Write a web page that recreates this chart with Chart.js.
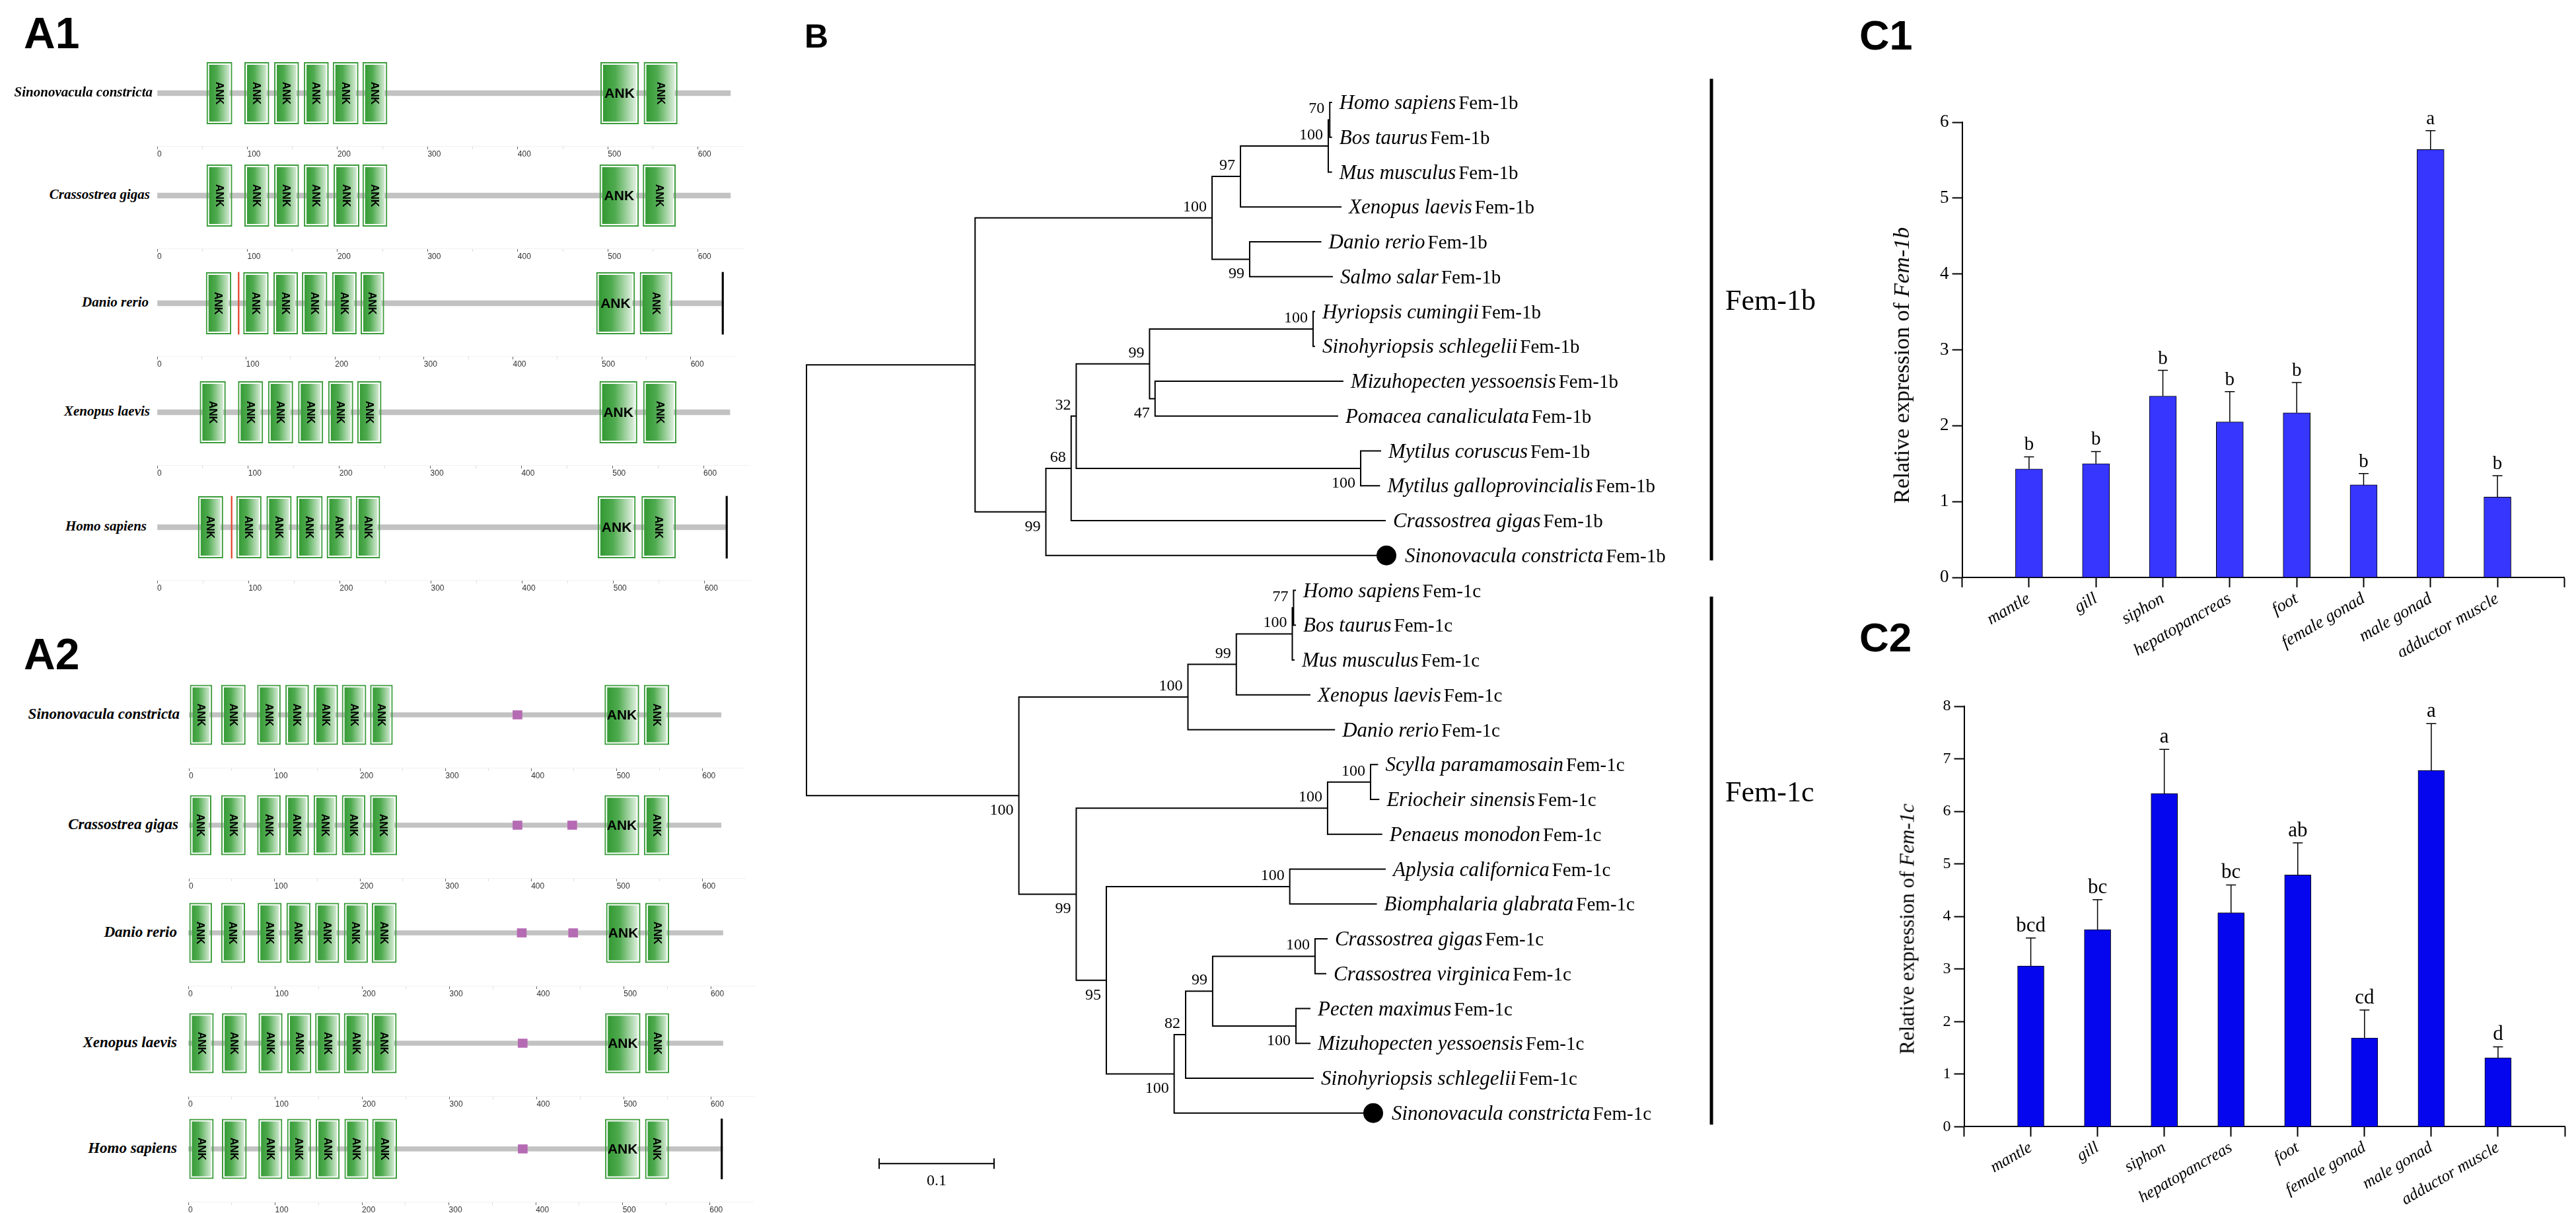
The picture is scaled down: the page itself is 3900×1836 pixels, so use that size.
<!DOCTYPE html>
<html><head><meta charset="utf-8">
<script src="https://cdn.jsdelivr.net/npm/chart.js@4.4.1/dist/chart.umd.min.js"></script>
<style>
html,body{margin:0;padding:0;background:#fff;}
#page{position:relative;width:3900px;height:1836px;overflow:hidden;background:#fff;}
canvas{position:absolute;}
.t{position:absolute;white-space:nowrap;}
.panel{font-family:"Liberation Sans",Arial,sans-serif;font-weight:bold;line-height:1;color:#000;}
.sp{font-family:"Liberation Serif","Times New Roman",serif;font-style:italic;font-weight:bold;line-height:1;transform:translateY(-50%);text-align:right;color:#000;}
.ytitle{font-family:"Liberation Serif","Times New Roman",serif;line-height:1;color:#000;transform:translate(-50%,-50%) rotate(-90deg);}
</style></head>
<body><div id="page"></div>
<script>
// ================= DATA =================
// Panel A: domain architecture (amino-acid positions)
const domainName = 'ANK';
const speciesA = ['Sinonovacula constricta','Crassostrea gigas','Danio rerio','Xenopus laevis','Homo sapiens'];
const fem1bLength = [636, 636, 637, 629, 625];
const fem1bAnk = [
  [[54,84],[96,125],[129,158],[162,191],[194,224],[227,256],[491,535],[539,578]],
  [[54,84],[96,125],[129,158],[162,191],[195,225],[227,256],[490,535],[538,576]],
  [[54,84],[96,126],[130,159],[162,192],[196,225],[228,256],[493,538],[542,580]],
  [[46,76],[88,117],[121,150],[154,183],[187,216],[219,247],[485,528],[533,571]],
  [[44,73],[86,115],[119,148],[152,182],[185,214],[217,245],[482,525],[530,569]]
];
const fem1bOtherSite = [[],[],[91],[],[81]];
const fem1bTerminus = [false,false,true,false,true];
const fem1cLength = [622, 622, 614, 614, 615];
const fem1cAnk = [
  [[0,28],[37,67],[79,108],[112,141],[145,175],[178,208],[211,239],[485,527],[531,562]],
  [[0,27],[37,67],[79,108],[112,141],[145,174],[178,207],[211,244],[485,527],[531,562]],
  [[0,28],[37,66],[79,108],[112,141],[145,174],[178,207],[210,240],[479,520],[524,553]],
  [[0,30],[38,68],[80,109],[113,142],[145,175],[178,208],[210,240],[478,520],[524,553]],
  [[0,30],[38,68],[80,109],[113,142],[146,175],[179,208],[211,241],[479,521],[525,554]]
];
const fem1cMotif = [[384],[384,448],[383,442],[384],[385]];
const fem1cTerminus = [false,false,false,false,true];
const aaTicks = [0,100,200,300,400,500,600];

// Panel B: neighbour-joining tree (Newick, bootstrap as node labels, branch lengths)
const fem1bTree = "(((((Homo_sapiens:0.002,Bos_taurus:0.002)70:0.0013,Mus_musculus:0.0033)100:0.0764,Xenopus_laevis:0.0879)97:0.0247,(Danio_rerio:0.0624,Salmo_salar:0.0724)99:0.0327)100:0.2062,(((((Hyriopsis_cumingii:0.0017,Sinohyriopsis_schlegelii:0.0017)100:0.1423,(Mizuhopecten_yessoensis:0.1639,Pomacea_canaliculata:0.1593)47:0.0048)99:0.0638,(Mytilus_coruscus:0.0178,Mytilus_galloprovincialis:0.0169)100:0.2475)32:0.0044,Crassostrea_gigas:0.2737)68:0.022,Sinonovacula_constricta:0.2963)99:0.0616):0.1467";
const fem1cTree = "(((((Homo_sapiens:0.0021,Bos_taurus:0.0021)77:0.0011,Mus_musculus:0.002)100:0.0487,Xenopus_laevis:0.0645)99:0.0421,Danio_rerio:0.128)100:0.1471,(((Scylla_paramamosain:0.0066,Eriocheir_sinensis:0.0077)100:0.0374,Penaeus_monodon:0.0476)100:0.2187,((Aplysia_californica:0.0835,Biomphalaria_glabrata:0.0758)100:0.1596,((((Crassostrea_gigas:0.0109,Crassostrea_virginica:0.0098)100:0.0891,(Pecten_maximus:0.0126,Mizuhopecten_yessoensis:0.0126)100:0.0725)99:0.0235,Sinohyriopsis_schlegelii:0.1115)82:0.01,Sinonovacula_constricta:0.1732)100:0.059)95:0.0262)99:0.0499)100:0.1848";
const cladeNames = ['Fem-1b','Fem-1c'];
const highlightedSpecies = ['Sinonovacula constricta'];
const scaleBarLength = 0.1;

// Panel C: relative expression
const tissues = ['mantle','gill','siphon','hepatopancreas','foot','female gonad','male gonad','adductor muscle'];
const fem1bMean = [1.43, 1.50, 2.39, 2.05, 2.17, 1.22, 5.64, 1.06];
const fem1bSD   = [0.16, 0.16, 0.34, 0.40, 0.40, 0.15, 0.25, 0.28];
const fem1bSig  = ['b','b','b','b','b','b','a','b'];
const fem1cMean = [3.06, 3.75, 6.34, 4.07, 4.79, 1.69, 6.78, 1.31];
const fem1cSD   = [0.53, 0.57, 0.84, 0.53, 0.61, 0.53, 0.89, 0.21];
const fem1cSig  = ['bcd','bc','a','bc','ab','cd','a','d'];
const c1YMax = 6, c2YMax = 8;

// ================= LAYOUT / STYLE =================
const A1_ROWS = [
  {y:140.6, x0:237.8, s:1.3643, labelRight:231},
  {y:296.2, x0:237.8, s:1.3643, labelRight:227},
  {y:459.2, x0:237.8, s:1.3455, labelRight:225},
  {y:624.0, x0:237.8, s:1.3787, labelRight:227},
  {y:797.9, x0:237.8, s:1.3815, labelRight:222}
];
const A2_ROWS = [
  {y:1081.5, x0:286.1, s:1.2951, labelRight:272},
  {y:1249.2, x0:286.1, s:1.2951, labelRight:270},
  {y:1411.6, x0:284.7, s:1.3189, labelRight:268},
  {y:1578.8, x0:284.7, s:1.3189, labelRight:268},
  {y:1739.4, x0:284.7, s:1.3153, labelRight:268}
];
const A1_GEOM = {box:96, line:8, label:21};
const A2_GEOM = {box:93, line:7, label:23};
const bootSide = [
  ['', 'a','a','a','a','b','b','a','a','a','a','b','b'],
  ['b','a','a','a','a','b','a','a','b','a','b','a','a','a','b']
];
const TREE_L = {left:1150, top:80, width:1650, height:1756,
  pad:{left:71, right:187, top:75, bottom:45.75}, xMax:0.8, yMax:31,
  cladeBarX:0.7874, cladeExt:[[-0.68,0.14],[0.18,0.33]], cladeLabelY:[5.95,20.06],
  scaleBar:{x:0.0632, y:30.45}};
const C1_L = {left:2780, top:100, width:1120, height:920, pad:{left:130.6,right:10,top:85,bottom:26}, barW:41,
  color:'#3636FF', tickFont:27, xFont:26, sigFont:29};
const C2_L = {left:2780, top:1000, width:1120, height:836, pad:{left:133.5,right:8,top:69,bottom:10.6}, barW:40,
  color:'#0606EE', tickFont:24, xFont:25, sigFont:31};

Chart.defaults.font.family = '"Liberation Sans", Arial, sans-serif';
Chart.defaults.animation = false;
const SERIF = '"Liberation Serif", "Times New Roman", serif';
const SANS = '"Liberation Sans", Arial, sans-serif';

const page = document.getElementById('page');
function addCanvas(l, t, w, h) {
  const c = document.createElement('canvas');
  c.width = Math.round(w); c.height = Math.round(h);
  c.style.left = l + 'px'; c.style.top = t + 'px';
  c.style.width = Math.round(w) + 'px'; c.style.height = Math.round(h) + 'px';
  page.appendChild(c);
  return c;
}
function addText(cls, html, style) {
  const d = document.createElement('div');
  d.className = 't ' + cls; d.innerHTML = html;
  Object.assign(d.style, style);
  page.appendChild(d);
  return d;
}

// ================= PANEL LABELS =================
addText('panel', 'A1', {left:'36px', top:'17px', fontSize:'66px'});
addText('panel', 'A2', {left:'36px', top:'957px', fontSize:'66px'});
addText('panel', 'B', {left:'1218px', top:'30px', fontSize:'50px'});
addText('panel', 'C1', {left:'2815px', top:'22px', fontSize:'63px'});
addText('panel', 'C2', {left:'2815px', top:'934px', fontSize:'62px'});

// ================= PANEL A =================
const ankTextPlugin = {
  id: 'ankText',
  afterDatasetsDraw(chart) {
    const meta = chart.getDatasetMeta(0);
    const ctx = chart.ctx;
    ctx.save();
    ctx.fillStyle = '#000'; ctx.textAlign = 'center'; ctx.textBaseline = 'middle';
    meta.data.forEach(el => {
      const p = el.getProps(['x','base','y'], true);
      const w = Math.abs(p.x - p.base), cx = (p.x + p.base) / 2;
      if (w >= 54) {
        ctx.font = 'bold 21px ' + SANS;
        ctx.fillText(domainName, cx, p.y + 1);
      } else {
        ctx.save(); ctx.translate(cx, p.y); ctx.rotate(Math.PI / 2);
        ctx.font = 'bold 16px ' + SANS;
        ctx.fillText(domainName, 0, 1);
        ctx.restore();
      }
    });
    ctx.restore();
  }
};

function ankFill(ctx) {
  if (ctx.type !== 'data' || !ctx.raw) return '#3a9a3a';
  const xs = ctx.chart.scales.x;
  const a = xs.getPixelForValue(ctx.raw.x[0]), b = xs.getPixelForValue(ctx.raw.x[1]);
  if (!isFinite(a) || !isFinite(b)) return '#3a9a3a';
  const g = ctx.chart.ctx.createLinearGradient(a, 0, b, 0);
  g.addColorStop(0, '#2b942b');
  g.addColorStop(0.4, '#4fab4f');
  g.addColorStop(0.8, '#bfe0bf');
  g.addColorStop(1, '#f6fbf6');
  return g;
}

function domainRow(row, geom, species, len, anks, motifs, sites, terminus) {
  const AXMAX = 650, half = 80, axisH = 20;
  const w = AXMAX * row.s + 20;
  const canvas = addCanvas(row.x0 - 10, row.y - half, w, 2 * half + axisH);
  const Y = 'p';
  const px = v => v / row.s; // pixel size -> aa units
  const common = {grouped:false, borderWidth:0, borderSkipped:false};
  new Chart(canvas, {
    type: 'bar',
    data: {
      labels: [Y],
      datasets: [
        Object.assign({}, common, {label:'ANK', data: anks.map(r => ({x:r, y:Y})), backgroundColor: ankFill,
          borderColor:'#3a9c3a', borderWidth:4, inflateAmount:-1, barThickness: geom.box}),
        Object.assign({}, common, {label:'motif', data: motifs.map(c => ({x:[c - px(7), c + px(7)], y:Y})),
          backgroundColor:'#b56bb3', barThickness:13}),
        Object.assign({}, common, {label:'site', data: sites.map(c => ({x:[c, c + px(1.6)], y:Y})),
          backgroundColor:'#e0442c', barThickness: geom.box - 2}),
        Object.assign({}, common, {label:'end', data: terminus ? [{x:[len - px(2.5), len], y:Y}] : [],
          backgroundColor:'#000', barThickness: geom.box - 2}),
        Object.assign({}, common, {label:'protein', data:[{x:[0, len], y:Y}], backgroundColor:'#c2c2c2',
          barThickness: geom.line})
      ]
    },
    options: {
      indexAxis: 'y', responsive:false, maintainAspectRatio:false, devicePixelRatio:1, events:[],
      layout: {padding:{left:10, right:10, top:0, bottom:0}},
      plugins: {legend:{display:false}, tooltip:{enabled:false}},
      scales: {
        x: {type:'linear', min:0, max:AXMAX,
          afterBuildTicks: s => { s.ticks = s.ticks.filter(t => t.value <= aaTicks[aaTicks.length-1]); },
          ticks: {stepSize:50, align:'start', padding:0, autoSkip:false, maxRotation:0,
            font:{family:SANS, size:12}, color:'#333',
            callback: v => aaTicks.includes(v) ? String(v) : ''},
          grid: {drawOnChartArea:false, tickLength:5, lineWidth:1,
            color: c => (c.tick && aaTicks.includes(c.tick.value)) ? '#666' : '#dddddd'},
          border: {display:true, color:'#f1f1f1', width:1},
          afterFit: s => { s.height = axisH; }
        },
        y: {type:'category', display:false}
      }
    },
    plugins: [ankTextPlugin]
  });
  addText('sp', species, {right:(3900 - row.labelRight) + 'px', top:(row.y - 2) + 'px', fontSize: geom.label + 'px'});
}

for (let i = 0; i < 5; i++) {
  domainRow(A1_ROWS[i], A1_GEOM, speciesA[i], fem1bLength[i], fem1bAnk[i], [], fem1bOtherSite[i], fem1bTerminus[i]);
  domainRow(A2_ROWS[i], A2_GEOM, speciesA[i], fem1cLength[i], fem1cAnk[i], fem1cMotif[i], [], fem1cTerminus[i]);
}

// ================= PANEL B (tree) =================
function parseNewick(s) {
  let i = 0;
  function node() {
    const n = {children:[], name:'', len:0};
    if (s[i] === '(') {
      i++;
      n.children.push(node());
      while (s[i] === ',') { i++; n.children.push(node()); }
      i++; // ')'
    }
    let name = '';
    while (i < s.length && !':,);'.includes(s[i])) name += s[i++];
    n.name = name.replace(/_/g, ' ');
    if (s[i] === ':') {
      i++; let num = '';
      while (i < s.length && !',);'.includes(s[i])) num += s[i++];
      n.len = parseFloat(num);
    }
    return n;
  }
  return node();
}
const treeRoot = {children:[], name:'', len:0};
[fem1bTree, fem1cTree].forEach((nwk, ci) => {
  const t = parseNewick(nwk);
  let k = 0;
  (function tag(n) {
    n.clade = ci;
    if (n.children.length) { n.side = bootSide[ci][k++]; n.children.forEach(tag); }
    else n.suffix = cladeNames[ci];
  })(t);
  treeRoot.children.push(t);
});
const leaves = [], internals = [];
let leafCounter = 0;
(function walk(n, d) {
  n.depth = d + (n.len || 0);
  if (!n.children.length) { n.y = leafCounter++; leaves.push(n); }
  else {
    n.children.forEach(c => walk(c, n.depth));
    n.y = (n.children[0].y + n.children[n.children.length - 1].y) / 2;
    internals.push(n);
  }
})(treeRoot, 0);

const branchPts = [];
internals.forEach(n => {
  const f = n.children[0], l = n.children[n.children.length - 1];
  branchPts.push({x:f.depth, y:f.y}, {x:n.depth, y:f.y}, {x:n.depth, y:l.y}, {x:l.depth, y:l.y}, {x:null, y:null});
  n.children.slice(1, -1).forEach(m => branchPts.push({x:n.depth, y:m.y}, {x:m.depth, y:m.y}, {x:null, y:null}));
});
const dotPts = leaves.filter(l => highlightedSpecies.includes(l.name)).map(l => ({x:l.depth, y:l.y}));
const cladeBarPts = [];
treeRoot.children.forEach((c, ci) => {
  const ls = leaves.filter(l => l.clade === ci);
  cladeBarPts.push({x:TREE_L.cladeBarX, y:ls[0].y + TREE_L.cladeExt[ci][0]},
                   {x:TREE_L.cladeBarX, y:ls[ls.length - 1].y + TREE_L.cladeExt[ci][1]}, {x:null, y:null});
});
const sb = TREE_L.scaleBar, tk = 0.15;
const scaleBarPts = [{x:sb.x, y:sb.y - tk}, {x:sb.x, y:sb.y + tk}, {x:null, y:null},
  {x:sb.x, y:sb.y}, {x:sb.x + scaleBarLength, y:sb.y}, {x:null, y:null},
  {x:sb.x + scaleBarLength, y:sb.y - tk}, {x:sb.x + scaleBarLength, y:sb.y + tk}];

const treeTextPlugin = {
  id: 'treeText',
  afterDatasetsDraw(chart) {
    const xs = chart.scales.x, ys = chart.scales.y, ctx = chart.ctx;
    ctx.save();
    ctx.fillStyle = '#000';
    ctx.textBaseline = 'alphabetic';
    // leaf labels
    leaves.forEach(l => {
      const hl = highlightedSpecies.includes(l.name);
      const x = xs.getPixelForValue(l.depth) + (hl ? 28 : 11);
      const y = ys.getPixelForValue(l.y) + 10;
      ctx.textAlign = 'left';
      ctx.font = 'italic 31px ' + SERIF;
      ctx.fillText(l.name, x, y);
      const w = ctx.measureText(l.name).width;
      ctx.font = '29px ' + SERIF;
      ctx.fillText(l.suffix, x + w + 4, y);
    });
    // bootstrap values
    ctx.font = '24px ' + SERIF;
    ctx.textAlign = 'right';
    internals.forEach(n => {
      if (!n.name) return;
      const x = xs.getPixelForValue(n.depth) - 8;
      const y = ys.getPixelForValue(n.y);
      ctx.fillText(n.name, x, n.side === 'b' ? y + 29 : y - 10);
    });
    // clade names
    ctx.textAlign = 'left';
    ctx.font = '44px ' + SERIF;
    cladeNames.forEach((c, ci) => {
      ctx.fillText(c, xs.getPixelForValue(TREE_L.cladeBarX) + 21, ys.getPixelForValue(TREE_L.cladeLabelY[ci]));
    });
    // scale bar label
    ctx.textAlign = 'center';
    ctx.font = '24px ' + SERIF;
    ctx.fillText(String(scaleBarLength), xs.getPixelForValue(sb.x + scaleBarLength / 2), ys.getPixelForValue(sb.y) + 33);
    ctx.restore();
  }
};

new Chart(addCanvas(TREE_L.left, TREE_L.top, TREE_L.width, TREE_L.height), {
  type: 'line',
  data: {
    datasets: [
      {label:'dots', data:dotPts, showLine:false, pointRadius:15, pointBackgroundColor:'#000', pointBorderWidth:0, clip:false},
      {label:'branches', data:branchPts, borderColor:'#000', borderWidth:2, pointRadius:0, spanGaps:false, tension:0, clip:false, borderJoinStyle:'miter'},
      {label:'clades', data:cladeBarPts, borderColor:'#000', borderWidth:5, pointRadius:0, spanGaps:false, clip:false},
      {label:'scale', data:scaleBarPts, borderColor:'#000', borderWidth:2, pointRadius:0, spanGaps:false, clip:false}
    ]
  },
  options: {
    responsive:false, maintainAspectRatio:false, devicePixelRatio:1, events:[],
    layout: {padding: TREE_L.pad},
    plugins: {legend:{display:false}, tooltip:{enabled:false}},
    scales: {
      x: {type:'linear', min:0, max:TREE_L.xMax, display:false},
      y: {type:'linear', min:0, max:TREE_L.yMax, reverse:true, display:false}
    }
  },
  plugins: [treeTextPlugin]
});

// ================= PANEL C =================
function errPlugin(means, sds, sigs, fontSize) {
  return {
    id: 'errBars',
    afterDatasetsDraw(chart) {
      const ys = chart.scales.y, meta = chart.getDatasetMeta(0), ctx = chart.ctx;
      ctx.save();
      ctx.strokeStyle = '#000'; ctx.lineWidth = 1.5; ctx.fillStyle = '#000';
      ctx.font = fontSize + 'px ' + SERIF; ctx.textAlign = 'center'; ctx.textBaseline = 'alphabetic';
      meta.data.forEach((bar, i) => {
        const k = i - 1;
        if (k < 0 || k >= means.length) return;
        const yBar = ys.getPixelForValue(means[k]);
        const yTop = ys.getPixelForValue(means[k] + sds[k]);
        ctx.beginPath();
        ctx.moveTo(bar.x, yBar); ctx.lineTo(bar.x, yTop);
        ctx.moveTo(bar.x - 7.5, yTop); ctx.lineTo(bar.x + 7.5, yTop);
        ctx.stroke();
        ctx.fillText(sigs[k], bar.x, yTop - 10);
      });
      ctx.restore();
    }
  };
}

function exprChart(L, means, sds, sigs, yMax) {
  new Chart(addCanvas(L.left, L.top, L.width, L.height), {
    type: 'bar',
    data: {
      labels: [''].concat(tissues, ['']),
      datasets: [{data: [null].concat(means, [null]), backgroundColor: L.color, borderColor:'#000',
        borderWidth: 1, borderSkipped:'start', barThickness: L.barW}]
    },
    options: {
      responsive:false, maintainAspectRatio:false, devicePixelRatio:1, events:[],
      layout: {padding: L.pad},
      plugins: {legend:{display:false}, tooltip:{enabled:false}},
      scales: {
        x: {type:'category', offset:false,
          grid: {offset:false, drawOnChartArea:false, color:'#000', tickLength:15, tickWidth:2},
          border: {display:true, color:'#000', width:2},
          ticks: {autoSkip:false, minRotation:30, maxRotation:30, padding:2, color:'#000',
            font:{family:SERIF, style:'italic', size:L.xFont}},
          afterFit: s => { s.height = 120; }
        },
        y: {min:0, max:yMax,
          grid: {drawOnChartArea:false, color:'#000', tickLength:15, tickWidth:2},
          border: {display:true, color:'#000', width:2},
          ticks: {stepSize:1, padding:5, color:'#000', font:{family:SERIF, size:L.tickFont}},
          afterFit: s => { s.width = 60; }
        }
      }
    },
    plugins: [errPlugin(means, sds, sigs, L.sigFont)]
  });
}
exprChart(C1_L, fem1bMean, fem1bSD, fem1bSig, c1YMax);
exprChart(C2_L, fem1cMean, fem1cSD, fem1cSig, c2YMax);

addText('ytitle', 'Relative expression of <i>Fem-1b</i>', {left:'2879px', top:'553px', fontSize:'34px'});
addText('ytitle', 'Relative expression of <i>Fem-1c</i>', {left:'2887px', top:'1406px', fontSize:'31px'});
</script>
</body></html>
